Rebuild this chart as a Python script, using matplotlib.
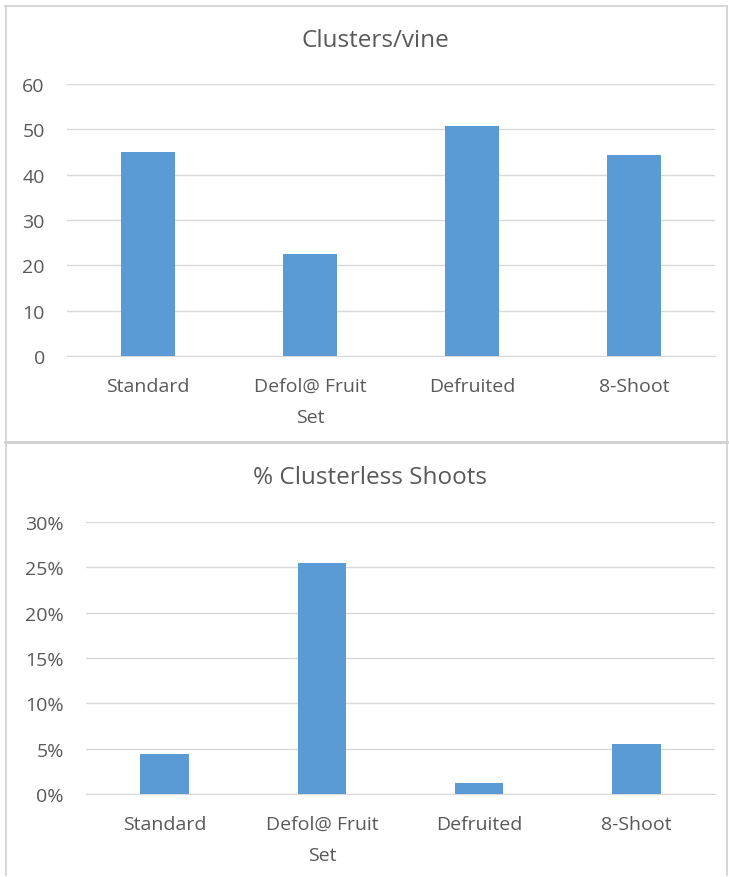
import matplotlib
matplotlib.use("Agg")
import matplotlib.pyplot as plt
from matplotlib.ticker import PercentFormatter
from matplotlib.lines import Line2D

categories = ["Standard", "Defol@ Fruit\nSet", "Defruited", "8-Shoot"]
clusters_per_vine = [45.0, 22.5, 50.8, 44.4]
clusterless_pct = [4.4, 25.5, 1.2, 5.5]

top_title = "Clusters/vine"
bottom_title = "% Clusterless Shoots"

BAR = "#5b9bd5"
TEXT = "#595959"
GRID = "#d9d9d9"
FRAME = "#d0d0d0"

plt.rcParams["font.family"] = ["Open Sans", "DejaVu Sans"]

W, H = 729, 878
fig = plt.figure(figsize=(W / 100, H / 100), dpi=100)
fig.patch.set_facecolor("white")


def style(ax, ymax, step, pct=False):
    ax.set_ylim(0, ymax)
    ax.set_xlim(-0.5, len(categories) - 0.5)
    ax.set_yticks([i * step for i in range(int(ymax / step) + 1)])
    if pct:
        ax.yaxis.set_major_formatter(PercentFormatter(decimals=0))
    ax.grid(axis="y", color=GRID, linewidth=1.0)
    ax.set_axisbelow(True)
    for s in ["top", "right", "left"]:
        ax.spines[s].set_visible(False)
    ax.spines["bottom"].set_color(GRID)
    ax.tick_params(axis="both", length=0, colors=TEXT, labelsize=14)
    ax.tick_params(axis="x", pad=15)
    ax.tick_params(axis="y", pad=16)
    ax.set_xticks(range(len(categories)))
    ax.set_xticklabels(categories, linespacing=1.95)


# Top panel: clusters per vine
ax1 = fig.add_axes([67 / W, 1 - 357 / H, (715 - 67) / W, 272 / H])
ax1.bar(range(len(categories)), clusters_per_vine, width=0.33, color=BAR, zorder=3)
style(ax1, 60, 10)
fig.text(375 / W, 1 - 41 / H, top_title, ha="center", va="center",
         fontsize=17.5, color=TEXT)

# Bottom panel: share of shoots without clusters
ax2 = fig.add_axes([86 / W, 1 - 795 / H, (715 - 86) / W, 272 / H])
ax2.bar(range(len(categories)), clusterless_pct, width=0.31, color=BAR, zorder=3)
style(ax2, 30, 5, pct=True)
fig.text(370 / W, 1 - 478 / H, bottom_title, ha="center", va="center",
         fontsize=17.5, color=TEXT)

# Chart frames
def hline(y, x0, x1, lw=1.2):
    fig.add_artist(Line2D([x0 / W, x1 / W], [1 - y / H, 1 - y / H],
                          color=FRAME, linewidth=lw, transform=fig.transFigure))

def vline(x, y0, y1, lw=1.2):
    fig.add_artist(Line2D([x / W, x / W], [1 - y0 / H, 1 - y1 / H],
                          color=FRAME, linewidth=lw, transform=fig.transFigure))

hline(7, 5, 727)
hline(443, 5, 727, lw=2.0)
vline(6, 7, 876)
vline(727, 7, 876)

fig.savefig("out.png", dpi=100, facecolor="white")
